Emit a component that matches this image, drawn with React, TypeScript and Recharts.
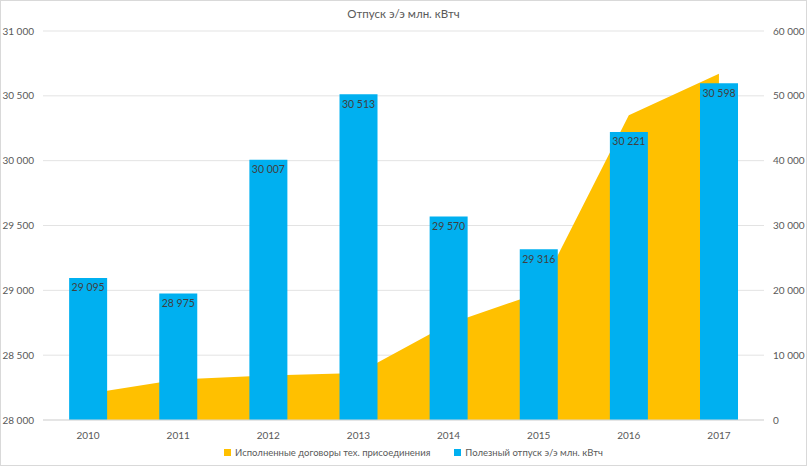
import React from 'react';
import {
  ComposedChart,
  Bar,
  Area,
  XAxis,
  YAxis,
  CartesianGrid,
  LabelList,
} from 'recharts';

const years = ['2010', '2011', '2012', '2013', '2014', '2015', '2016', '2017'];
const usefulSupply = [29095, 28975, 30007, 30513, 29570, 29316, 30221, 30598];
const contracts = [4060, 6250, 6850, 7250, 14800, 19600, 47000, 53400];
const leftTicks = [28000, 28500, 29000, 29500, 30000, 30500, 31000];
const rightTicks = [0, 10000, 20000, 30000, 40000, 50000, 60000];

const AREA_NAME = 'Исполненные договоры тех. присоединения';
const BAR_NAME = 'Полезный отпуск э/э млн. кВтч';
const AREA_COLOR = '#FFC000';
const BAR_COLOR = '#00B0F0';

const data = years.map((year, i) => ({
  year,
  supply: usefulSupply[i],
  contracts: contracts[i],
}));

// non-breaking space so recharts doesn't wrap "29 095" onto two lines
const fmt = (v: number) => String(v).replace(/\B(?=(\d{3})+(?!\d))/g, '\u00A0');

const FONT = 'Lato, "Open Sans", sans-serif';
const tickStyle = { fill: '#595959', fontSize: 10, fontFamily: FONT };

const LegendItem = ({ color, label }: { color: string; label: string }) => (
  <span style={{ display: 'inline-flex', alignItems: 'center', marginRight: 24 }}>
    <span style={{ width: 7, height: 7, background: color, marginRight: 4 }} />
    {label}
  </span>
);

export default function App() {
  return (
    <div
      style={{
        position: 'absolute',
        left: 0,
        top: 0,
        width: 805,
        height: 464,
        border: '1px solid #d9d9d9',
        background: '#fff',
        fontFamily: FONT,
      }}
    >
      <div
        style={{
          position: 'absolute',
          top: 6,
          left: 0,
          width: '100%',
          textAlign: 'center',
          fontSize: 11.5,
          color: '#595959',
        }}
      >
        Отпуск э/э млн. кВтч
      </div>
      <ComposedChart
        width={805}
        height={464}
        data={data}
        margin={{ top: 30, right: 0, bottom: 15, left: 0 }}
        barCategoryGap="29%"
      >
        <CartesianGrid yAxisId="left" vertical={false} stroke="#e3e3e3" />
        <XAxis
          dataKey="year"
          height={30}
          axisLine={{ stroke: '#d9d9d9' }}
          tickLine={false}
          tick={tickStyle}
          tickMargin={6}
        />
        <YAxis
          yAxisId="left"
          orientation="left"
          width={42}
          domain={[28000, 31000]}
          ticks={leftTicks}
          allowDataOverflow
          axisLine={false}
          tickLine={false}
          tickSize={0}
          tickMargin={9}
          tick={tickStyle}
          tickFormatter={fmt}
        />
        <YAxis
          yAxisId="right"
          orientation="right"
          width={42}
          domain={[0, 60000]}
          ticks={rightTicks}
          axisLine={false}
          tickLine={false}
          tickSize={0}
          tickMargin={9}
          tick={tickStyle}
          tickFormatter={fmt}
        />
        <Area
          yAxisId="right"
          dataKey="contracts"
          name={AREA_NAME}
          type="linear"
          stroke="none"
          fill={AREA_COLOR}
          fillOpacity={1}
          isAnimationActive={false}
        />
        <Bar
          yAxisId="left"
          dataKey="supply"
          name={BAR_NAME}
          fill={BAR_COLOR}
          isAnimationActive={false}
        >
          <LabelList
            dataKey="supply"
            position="insideTop"
            offset={6}
            formatter={(v: any) => fmt(Number(v))}
            style={{ fill: '#404040', fontSize: 10.5, fontFamily: FONT }}
          />
        </Bar>
      </ComposedChart>
      <div
        style={{
          position: 'absolute',
          top: 446,
          left: 0,
          width: '100%',
          paddingLeft: 44,
          boxSizing: 'border-box',
          textAlign: 'center',
          fontSize: 9.5,
          color: '#595959',
        }}
      >
        <LegendItem color={AREA_COLOR} label={AREA_NAME} />
        <LegendItem color={BAR_COLOR} label={BAR_NAME} />
      </div>
    </div>
  );
}
